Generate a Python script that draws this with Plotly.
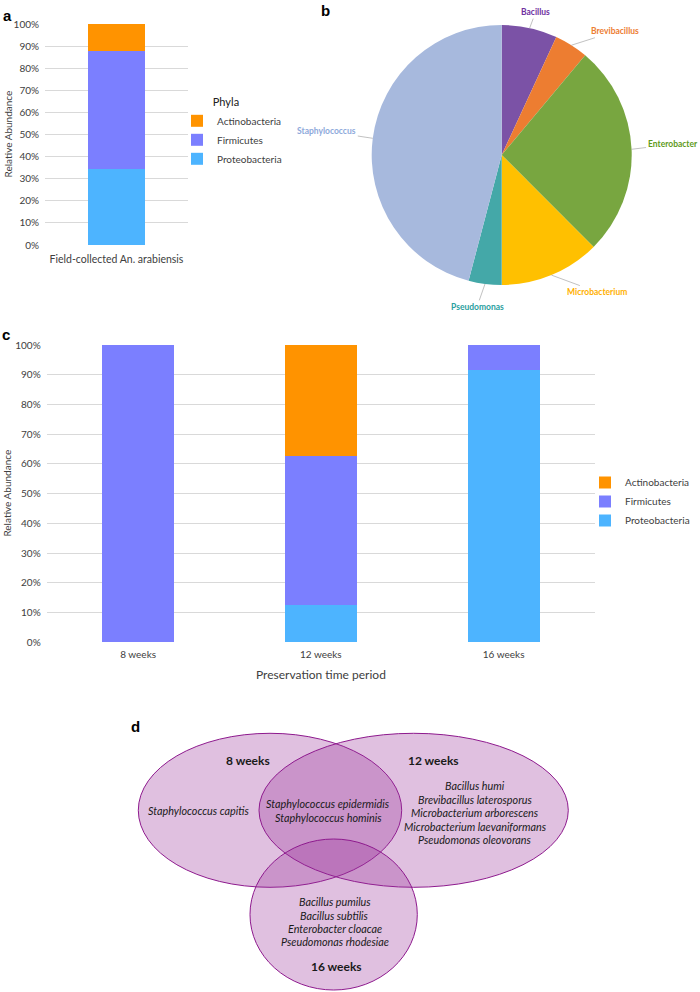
import math
import plotly.graph_objects as go

# ---------------- data ----------------
phyla = ["Proteobacteria", "Firmicutes", "Actinobacteria"]
phyla_colors = ["#4DB4FF", "#7B7FFF", "#FF9300"]

field_sample = ["Field-collected An. arabiensis"]
field_proteobacteria = [0.346]
field_firmicutes = [0.530]
field_actinobacteria = [0.124]

weeks = ["8 weeks", "12 weeks", "16 weeks"]
weeks_proteobacteria = [0.0, 0.125, 0.917]
weeks_firmicutes = [1.0, 0.50, 0.083]
weeks_actinobacteria = [0.0, 0.375, 0.0]

genera = ["Bacillus", "Brevibacillus", "Enterobacter", "Microbacterium",
          "Pseudomonas", "Staphylococcus"]
genus_share = [6.9, 4.2, 26.4, 12.5, 4.1, 45.9]
genus_colors = ["#7B52A6", "#ED7D31", "#78A640", "#FFC000", "#44A8A8", "#A7B9DD"]
genus_label_colors = ["#7030A0", "#ED7D31", "#5E9A1A", "#FFB000", "#2AA0A0", "#8EA9DB"]

venn_only_8 = ["Staphylococcus capitis"]
venn_8_and_12 = ["Staphylococcus epidermidis", "Staphylococcus hominis"]
venn_only_12 = ["Bacillus humi", "Brevibacillus laterosporus", "Microbacterium arborescens",
                "Microbacterium laevaniformans", "Pseudomonas oleovorans"]
venn_only_16 = ["Bacillus pumilus", "Bacillus subtilis", "Enterobacter cloacae",
                "Pseudomonas rhodesiae"]
venn_titles = ["8 weeks", "12 weeks", "16 weeks"]

# ---------------- helpers ----------------
W, H = 700, 992
def px(x):
    return x / W
def py(y):
    return 1 - y / H

FONT = "Lato"
AX = "#404040"
GRID = "#D9D9D9"

fig = go.Figure()

field_vals = [field_proteobacteria, field_firmicutes, field_actinobacteria]
week_vals = [weeks_proteobacteria, weeks_firmicutes, weeks_actinobacteria]

for name, col, v in zip(phyla, phyla_colors, field_vals):
    fig.add_trace(go.Bar(x=field_sample, y=v, name=name, marker_color=col,
                         marker_line_width=0, width=0.4, xaxis="x", yaxis="y",
                         legend="legend", hoverinfo="skip"))
for name, col, v in zip(phyla, phyla_colors, week_vals):
    fig.add_trace(go.Bar(x=weeks, y=v, name=name, marker_color=col,
                         marker_line_width=0, width=0.394, xaxis="x2", yaxis="y2",
                         legend="legend2", hoverinfo="skip"))

pie_cx, pie_cy, pie_r = 501.7, 155, 130
fig.add_trace(go.Pie(labels=genera, values=genus_share, sort=False,
                     direction="clockwise", rotation=0,
                     marker=dict(colors=genus_colors, line=dict(width=0)),
                     textinfo="none", hoverinfo="skip", showlegend=False,
                     domain=dict(x=[px(pie_cx - pie_r), px(pie_cx + pie_r)],
                                 y=[py(pie_cy + pie_r), py(pie_cy - pie_r)])))

# pie labels with leader lines (anchored at slice mid-angles)
label_offsets = [(6, -16), (44, -14), (41, -5), (46, 17), (-8, 23), (-46, -7)]
total = sum(genus_share)
cum = 0
annotations = []
for g, s, lc, (ox, oy) in zip(genera, genus_share, genus_label_colors, label_offsets):
    mid = (cum + s / 2) / total * 2 * math.pi
    cum += s
    ex = pie_cx + pie_r * math.sin(mid)
    ey = pie_cy - pie_r * math.cos(mid)
    annotations.append(dict(x=px(ex), y=py(ey), xref="paper", yref="paper",
                            text="<b>%s</b>" % g, showarrow=True, arrowhead=0,
                            arrowwidth=0.7, arrowcolor="#A6A6A6", ax=ox, ay=oy,
                            font=dict(family=FONT, size=8.5, color=lc)))

def label(text, x, y, size, color=AX, angle=0, family=FONT):
    annotations.append(dict(x=px(x), y=py(y), xref="paper", yref="paper", text=text,
                            showarrow=False, textangle=angle, xanchor="center",
                            yanchor="middle", font=dict(family=family, size=size, color=color)))

yaxis_common = dict(range=[0, 1], dtick=0.1, tickformat=".0%", showgrid=True,
                    gridcolor=GRID, gridwidth=1, zeroline=False, showline=False,
                    ticks="", tickfont=dict(family=FONT, size=10, color=AX),
                    ticklabelstandoff=5, fixedrange=True, automargin=False)

NB = "&nbsp;" * 12
fig.update_layout(
    width=W, height=H, margin=dict(l=0, r=0, t=0, b=0, autoexpand=False),
    paper_bgcolor="white", plot_bgcolor="white",
    barmode="stack", showlegend=True,
    xaxis=dict(domain=[px(45), px(188)], range=[-0.5, 0.5], showline=False,
               ticks="", tickfont=dict(family=FONT, size=10.5, color=AX), anchor="y",
               ticklabelstandoff=6, fixedrange=True, automargin=False),
    yaxis=dict(domain=[py(245), py(24)], anchor="x", **yaxis_common),
    xaxis2=dict(domain=[px(46.7), px(595)], range=[-0.5, 2.5], showline=False,
                ticks="", tickfont=dict(family=FONT, size=10, color=AX), anchor="y2",
                ticklabelstandoff=5, fixedrange=True, automargin=False),
    yaxis2=dict(domain=[py(642.3), py(345)], anchor="x2", **yaxis_common),
    legend=dict(x=px(177), y=py(92), xanchor="left", yanchor="top",
                title=dict(text=NB + "Phyla",
                           font=dict(family=FONT, size=11, color="#202020")),
                font=dict(family=FONT, size=10, color=AX), bgcolor="rgba(0,0,0,0)"),
    legend2=dict(x=px(585), y=py(468), xanchor="left", yanchor="top",
                 font=dict(family=FONT, size=10, color=AX), bgcolor="rgba(0,0,0,0)"),
)

# axis titles
label("Relative Abundance", 7, 134.5, 10, angle=-90)
label("Relative Abundance", 7, 493.6, 10, angle=-90)
label("Preservation time period", 320.8, 674, 12)

# panel letters
for t, x, y in [("a", 7, 16), ("b", 325, 10), ("c", 6, 334), ("d", 135, 726)]:
    label("<b>%s</b>" % t, x, y, 15, color="black", family="Liberation Sans")

# Venn diagram shapes
venn_fill = "rgba(152,45,152,0.30)"
venn_line = "#8E1A8E"
ellipses = [(138.3, 733.3, 401.7, 887.3), (259, 733.3, 568.3, 887.3), (250, 839, 417.3, 990)]
shapes = []
for (x0, y0, x1, y1) in ellipses:
    shapes.append(dict(type="circle", xref="paper", yref="paper",
                       x0=px(x0), x1=px(x1), y0=py(y1), y1=py(y0),
                       fillcolor=venn_fill, line=dict(color=venn_line, width=1), layer="below"))

def venn_text(lines, x, y0, dy, italic=True, bold=False, size=10.8):
    for i, ln in enumerate(lines):
        txt = ln
        if italic:
            txt = "<i>%s</i>" % txt
        if bold:
            txt = "<b>%s</b>" % txt
        label(txt, x, y0 + i * dy, size, color="#1A1A1A")

venn_text(venn_only_8, 198.3, 810.7, 13.5)
venn_text(venn_8_and_12, 328.3, 803.3, 14)
venn_text(venn_only_12, 475, 785.5, 13.5)
venn_text(venn_only_16, 334.7, 901.7, 13.3)
for t, (x, y) in zip(venn_titles, [(248.3, 760), (433.3, 760), (336.7, 966.7)]):
    venn_text([t], x, y, 0, italic=False, bold=True, size=12)

fig.update_layout(annotations=annotations, shapes=shapes)
fig.write_html("out.html", config={"displayModeBar": False},
               post_script="document.body.style.margin='0px';"
                           "document.body.style.overflow='hidden';")
